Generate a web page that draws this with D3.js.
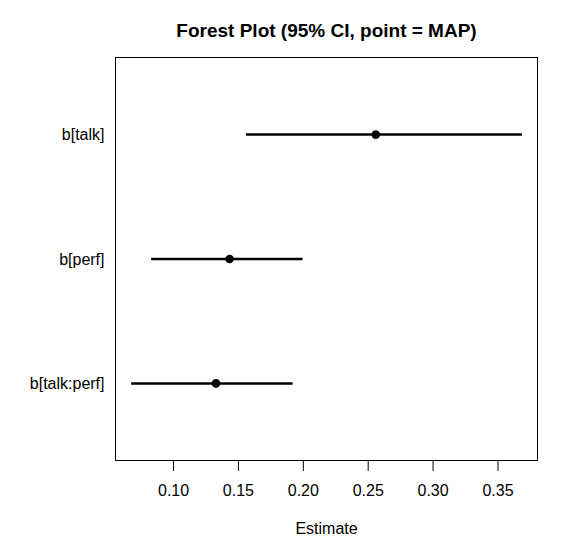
<!DOCTYPE html>
<html>
<head>
<meta charset="utf-8">
<script src="https://cdn.jsdelivr.net/npm/d3@7"></script>
<style>
  body { margin: 0; background: #fff; }
  text { font-family: "Liberation Sans", Arial, sans-serif; fill: #000; }
</style>
</head>
<body>
<svg id="chart" width="576" height="557"></svg>
<script>
// parameters, top to bottom
var terms = ["b[talk]", "b[perf]", "b[talk:perf]"];
var mapEst = [0.2562, 0.1436, 0.1331];
var ciLow = [0.1562, 0.0831, 0.0677];
var ciHigh = [0.3688, 0.1998, 0.1921];
var xTicks = [0.10, 0.15, 0.20, 0.25, 0.30, 0.35];

var svg = d3.select("#chart"),
  margin = {top: 57.5, right: 38.5, bottom: 96.5, left: 115.5},
  width = +svg.attr("width") - margin.left - margin.right,
  height = +svg.attr("height") - margin.top - margin.bottom;

// R style: extend data range by 4% each side
var lo = d3.min(ciLow), hi = d3.max(ciHigh), pad = (hi - lo) * 0.04;
var x = d3.scaleLinear()
  .domain([lo - pad, hi + pad])
  .range([0, width]);

// rows at 1..n, ylim = c(0.5, n + 0.5), plus 4%
var n = terms.length, yPad = n * 0.04;
var y = d3.scaleLinear()
  .domain([0.5 - yPad, n + 0.5 + yPad])
  .range([height, 0]);

var g = svg.append("g")
  .attr("transform", "translate(" + margin.left + "," + margin.top + ")");

g.append("rect")
  .attr("width", width)
  .attr("height", height)
  .attr("fill", "none")
  .attr("stroke", "#000")
  .attr("stroke-width", 1);

var xAxis = g.append("g")
  .attr("transform", "translate(0," + height + ")")
  .call(d3.axisBottom(x).tickValues(xTicks).tickFormat(d3.format(".2f")).tickSize(10.5).tickPadding(14));
xAxis.select(".domain").remove();
xAxis.selectAll("line").attr("stroke", "#000");
xAxis.selectAll("text")
  .style("font-size", "16px")
  .style("font-family", "\"Liberation Sans\", Arial, sans-serif")
  .attr("fill", "#000");

var rows = g.selectAll(".row")
  .data(terms)
  .enter().append("g")
  .attr("class", "row")
  .attr("transform", function(d, i) { return "translate(0," + y(n - i) + ")"; });

rows.append("line")
  .attr("x1", function(d, i) { return x(ciLow[i]); })
  .attr("x2", function(d, i) { return x(ciHigh[i]); })
  .attr("stroke", "#000")
  .attr("stroke-width", 2.5);

rows.append("circle")
  .attr("cx", function(d, i) { return x(mapEst[i]); })
  .attr("r", 4.3)
  .attr("fill", "#000");

rows.append("text")
  .attr("x", -11)
  .attr("dy", "0.35em")
  .attr("text-anchor", "end")
  .style("font-size", "16px")
  .text(function(d) { return d; });

svg.append("text")
  .attr("x", margin.left + width / 2)
  .attr("y", 36.5)
  .attr("text-anchor", "middle")
  .style("font-size", "19px")
  .style("font-weight", "bold")
  .text("Forest Plot (95% CI, point = MAP)");

svg.append("text")
  .attr("x", margin.left + width / 2)
  .attr("y", 534)
  .attr("text-anchor", "middle")
  .style("font-size", "16px")
  .text("Estimate");
</script>
</body>
</html>
